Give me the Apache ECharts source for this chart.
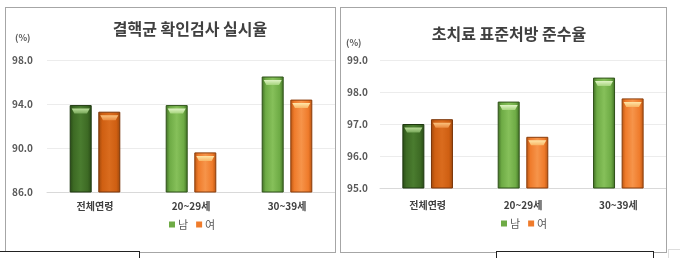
<!DOCTYPE html>
<html><head><meta charset="utf-8">
<script src="https://cdn.jsdelivr.net/npm/echarts@6/dist/echarts.min.js"></script>
<style>
html,body{margin:0;padding:0;background:#fff;width:680px;height:258px;overflow:hidden;position:relative;font-family:"Noto Sans CJK KR",sans-serif}
.panel{position:absolute;border:1px solid #a6a6a6;overflow:hidden;background:#fff}
.chart{position:absolute;left:0;top:0;width:100%;height:100%}
.box{position:absolute;border:1.5px solid #222;border-bottom:none;background:#fff}
</style></head><body>
<div class="panel" id="p1" style="left:5px;top:7px;width:329px;height:244px"><div class="chart" id="c1"></div></div>
<div class="panel" id="p2" style="left:340px;top:7px;width:325px;height:244px"><div class="chart" id="c2"></div></div>
<div class="box" style="left:-2px;top:251px;width:140px;height:10px"></div>
<div class="box" style="left:496px;top:251px;width:156px;height:10px"></div>
<div style="position:absolute;left:668px;top:249px;width:12px;height:10px;border:1px solid #ddd;border-right:none;border-bottom:none"></div>
<script>
// ---- data ----
const categories = ['전체연령', '20~29세', '30~39세'];
const seriesNames = ['남', '여'];
// chart 1: 결핵균 확인검사 실시율
const title1 = '결핵균 확인검사 실시율';
const male1 = [93.9, 93.9, 96.5];
const female1 = [93.3, 89.6, 94.4];
const yTicks1 = { min: 86, max: 98, interval: 4 };
// chart 2: 초치료 표준처방 준수율
const title2 = '초치료 표준처방 준수율';
const male2 = [97.0, 97.7, 98.45];
const female2 = [97.15, 96.6, 97.8];
const yTicks2 = { min: 95, max: 99, interval: 1 };
const unitLabel = '(%)';

// ---- styles ----
const FONT = '"Noto Sans CJK KR", sans-serif';
const pal = {
  male:   { base: '#6eab45', light: '#86c05a', dark: '#3f6e24', edge: '#2f5219', capL: '#dff3c4', capD: '#a5d47c' },
  female: { base: '#ef7b2b', light: '#f6944a', dark: '#b85411', edge: '#8a3d0b', capL: '#ffe6a8', capD: '#f8b565' },
  maleAll:   { base: '#3d6a24', light: '#4a7c2f', dark: '#284a16', edge: '#1e3810', capL: '#b8dc98', capD: '#78a85a' },
  femaleAll: { base: '#cf5f12', light: '#da6c1e', dark: '#9c470c', edge: '#7a3508', capL: '#fbc27e', capD: '#ea8b40' }
};
function grad(p) {
  return new echarts.graphic.LinearGradient(0, 0, 1, 0, [
    { offset: 0, color: p.dark }, { offset: 0.18, color: p.base },
    { offset: 0.5, color: p.light }, { offset: 0.82, color: p.base },
    { offset: 1, color: p.dark }
  ]);
}
function capGrad(p) {
  return new echarts.graphic.LinearGradient(0, 0, 0, 1, [
    { offset: 0, color: p.capL }, { offset: 1, color: p.capD }
  ]);
}
function barData(vals, pAll, p) {
  return vals.map((v, i) => ({
    value: v,
    itemStyle: { color: grad(i === 0 ? pAll : p), borderColor: (i === 0 ? pAll : p).edge, borderWidth: 1 }
  }));
}
function capData(vals, pAll, p) {
  return vals.map((v, i) => ({ value: v, itemStyle: { color: capGrad(i === 0 ? pAll : p) } }));
}
const capPath = 'path://M0,0 L20,0 L17,5 L3,5 Z';

function makeOption(cfg) {
  return {
    animation: false,
    textStyle: { fontFamily: FONT },
    title: {
      text: cfg.title, left: cfg.titleX, top: cfg.titleY, textAlign: 'center',
      textStyle: { fontFamily: FONT, fontSize: 16, fontWeight: 'bold', color: '#404040' }
    },
    graphic: [{
      type: 'text', left: cfg.unitX, top: cfg.unitY,
      style: { text: unitLabel, font: 'bold 9px ' + FONT, fill: '#595959' }
    }],
    legend: {
      data: [
        { name: seriesNames[0], itemStyle: { color: pal.male.base } },
        { name: seriesNames[1], itemStyle: { color: pal.female.base } }
      ],
      left: cfg.legendX, top: cfg.legendY, icon: 'rect', itemWidth: 6, itemHeight: 6, itemGap: 8,
      textStyle: { fontFamily: FONT, fontSize: 11, color: '#595959', padding: [0, 0, 0, -2] }
    },
    grid: { left: cfg.gridLeft, top: cfg.gridTop, width: cfg.gridWidth, height: cfg.gridHeight },
    xAxis: {
      type: 'category', data: categories,
      axisLine: { show: true, lineStyle: { color: '#d9d9d9', width: 1 } },
      axisTick: { show: false },
      axisLabel: { margin: cfg.xMargin, fontFamily: FONT, fontSize: 10, fontWeight: 'bold', color: '#404040' }
    },
    yAxis: {
      type: 'value', min: cfg.y.min, max: cfg.y.max, interval: cfg.y.interval,
      axisLine: { show: false }, axisTick: { show: false },
      splitLine: { lineStyle: { color: '#ececec', width: 1 } },
      axisLabel: { margin: cfg.yMargin, fontFamily: FONT, fontSize: 10, fontWeight: 'bold', color: '#595959',
        formatter: v => v.toFixed(1) }
    },
    series: [
      { name: seriesNames[0], type: 'bar', barWidth: 22, barGap: '30%', data: barData(cfg.male, pal.maleAll, pal.male) },
      { name: seriesNames[1], type: 'bar', barWidth: 22, barGap: '30%', data: barData(cfg.female, pal.femaleAll, pal.female) },
      { name: seriesNames[0], type: 'pictorialBar', barWidth: 22, barGap: '30%', symbol: capPath,
        symbolPosition: 'end', symbolSize: [18, 5], symbolOffset: [0, 3.5], z: 5, legendHoverLink: false,
        data: capData(cfg.male, pal.maleAll, pal.male) },
      { name: seriesNames[1], type: 'pictorialBar', barWidth: 22, barGap: '30%', symbol: capPath,
        symbolPosition: 'end', symbolSize: [18, 5], symbolOffset: [0, 3.5], z: 5, legendHoverLink: false,
        data: capData(cfg.female, pal.femaleAll, pal.female) }
    ]
  };
}

const c1 = echarts.init(document.getElementById('c1'), null, { renderer: 'canvas' });
c1.setOption(makeOption({
  title: title1, titleX: 179, titleY: 8, unitX: 9, unitY: 25, legendX: 158, legendY: 206,
  gridLeft: 41, gridTop: 52, gridWidth: 300, gridHeight: 132, xMargin: 9, yMargin: 14,
  y: yTicks1, male: male1, female: female1
}));
const c2 = echarts.init(document.getElementById('c2'), null, { renderer: 'canvas' });
c2.setOption(makeOption({
  title: title2, titleX: 163, titleY: 13, unitX: 5, unitY: 30, legendX: 155, legendY: 205,
  gridLeft: 39, gridTop: 52, gridWidth: 297, gridHeight: 128, xMargin: 12, yMargin: 12,
  y: yTicks2, male: male2, female: female2
}));
</script>
</body></html>
